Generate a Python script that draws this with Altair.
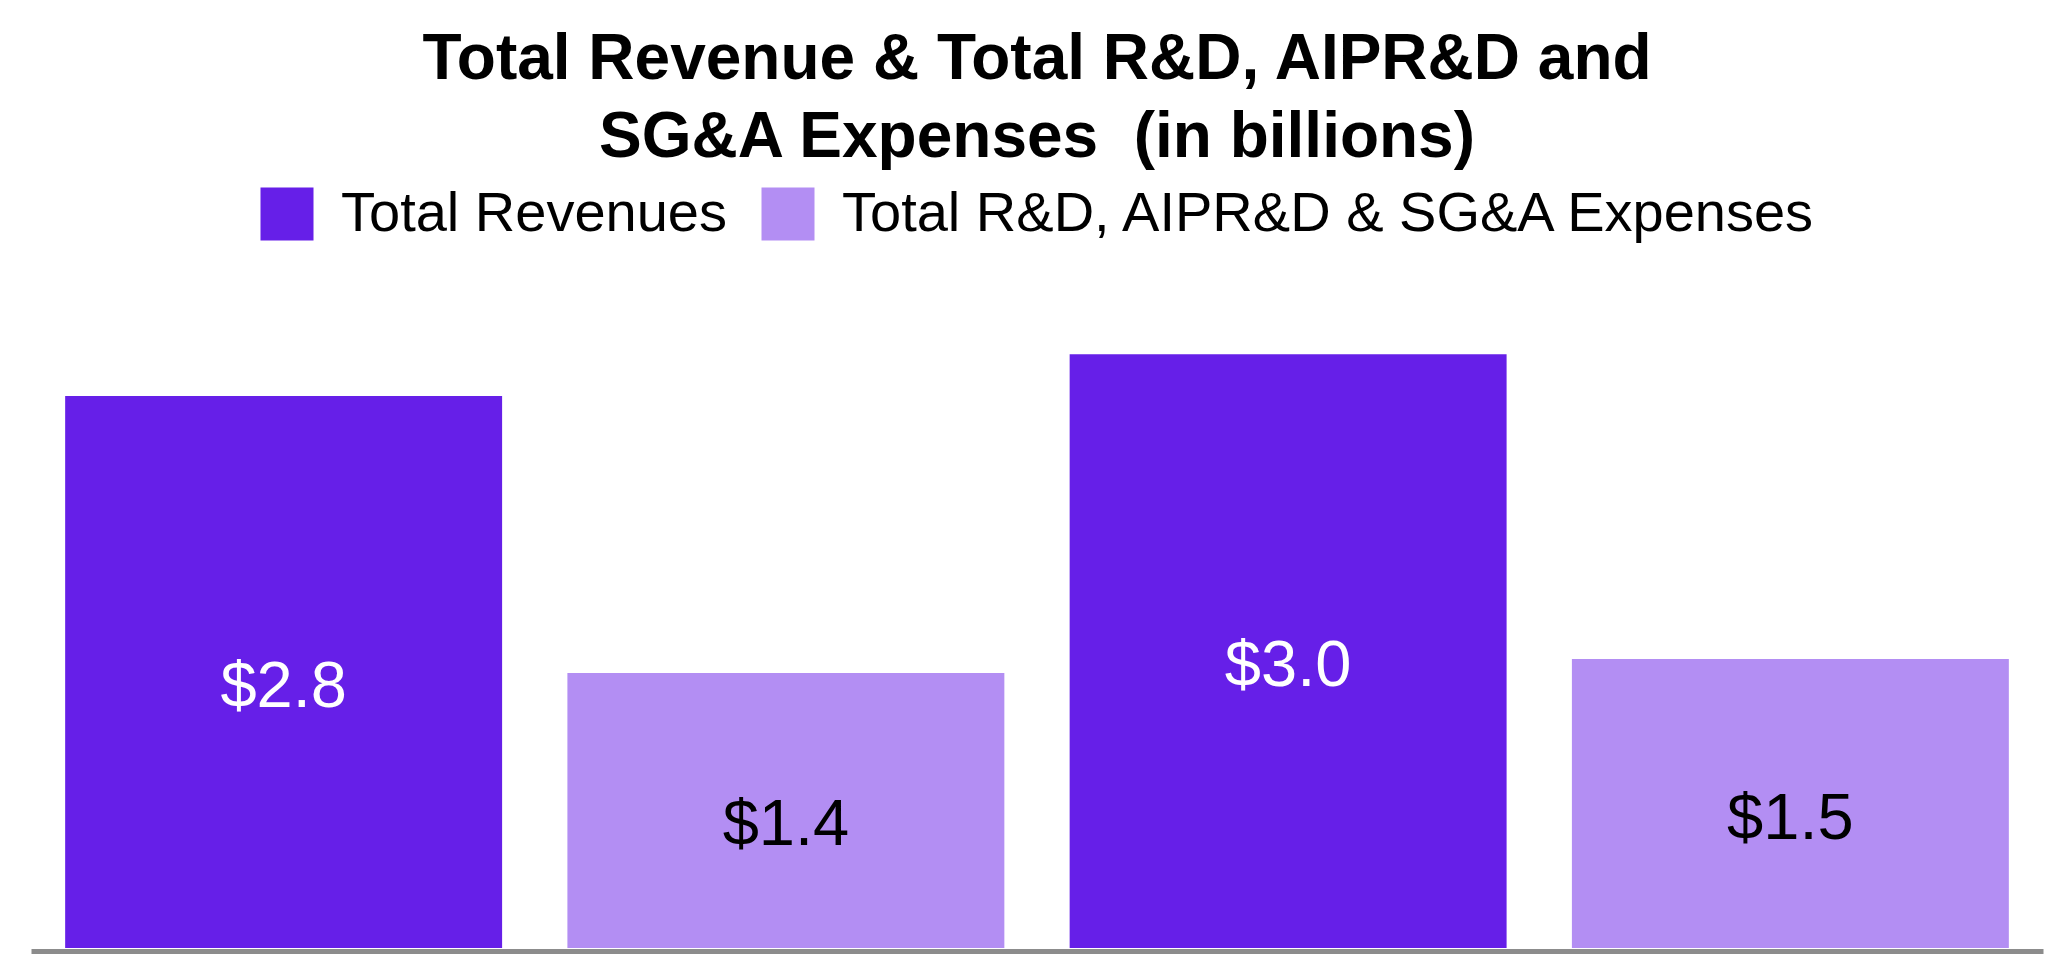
import altair as alt
import pandas as pd

# ---- data ----
bar_ids = ["Period 1 Revenues", "Period 1 Expenses", "Period 2 Revenues", "Period 2 Expenses"]
bar_series = [
    "Total Revenues",
    "Total R&D, AIPR&D & SG&A Expenses",
    "Total Revenues",
    "Total R&D, AIPR&D & SG&A Expenses",
]
values = [2.79, 1.39, 3.0, 1.46]
series_names = ["Total Revenues", "Total R&D, AIPR&D & SG&A Expenses"]
series_colors = ["#661FE8", "#B38EF3"]
title_lines = ["Total Revenue & Total R&D, AIPR&D and", "SG&A Expenses \u00a0(in billions)"]

df = pd.DataFrame({"bar": bar_ids, "series": bar_series, "value": values})

FONT = "Liberation Sans"

x_enc = alt.X(
    "bar:N",
    sort=bar_ids,
    scale=alt.Scale(paddingInner=0.13, paddingOuter=0.068),
    axis=alt.Axis(labels=False, ticks=False, title=None, domainColor="#8c8c8c",
                  domainWidth=5, offset=3, grid=False),
)

bars = alt.Chart(df).mark_bar().encode(
    x=x_enc,
    y=alt.Y("value:Q", scale=alt.Scale(domain=[0, 3.3], nice=False), axis=None),
    color=alt.Color(
        "series:N",
        scale=alt.Scale(domain=series_names, range=series_colors),
        legend=alt.Legend(
            title=None,
            orient="none",
            legendX=228,
            legendY=-109,
            direction="horizontal",
            symbolType="square",
            symbolSize=2809,
            symbolStrokeWidth=0,
            symbolOpacity=1,
            labelFont=FONT,
            labelFontSize=56,
            labelColor="black",
            labelOffset=26,
            labelLimit=2000,
            columnPadding=32,
            padding=0,
        ),
    ),
)

labels = alt.Chart(df).transform_calculate(mid="datum.value / 2").mark_text(
    font=FONT, fontSize=65, baseline="middle", align="center", dy=15
).encode(
    x=alt.X("bar:N", sort=bar_ids),
    y=alt.Y("mid:Q", axis=None),
    text=alt.Text("value:Q", format="$.1f"),
    color=alt.condition(alt.datum.series == "Total Revenues", alt.value("white"), alt.value("black")),
)

chart = alt.layer(bars, labels).properties(
    width=2012,
    height=653,
    padding={"left": 23, "top": 287, "right": 10, "bottom": 25},
    autosize=alt.AutoSizeParams(type="none"),
    title=alt.Title(
        title_lines,
        font=FONT,
        fontSize=64,
        fontWeight="bold",
        lineHeight=78,
        anchor="middle",
        offset=16,
        color="black",
    ),
).configure_view(strokeWidth=0)

chart.save("out.html", embed_options={"renderer": "svg", "actions": False})
